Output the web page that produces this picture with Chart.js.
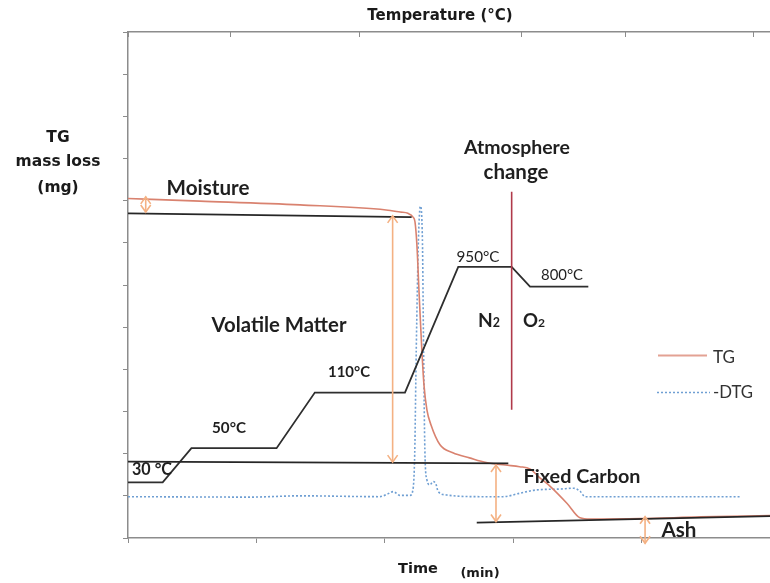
<!DOCTYPE html>
<html>
<head>
<meta charset="utf-8">
<script src="https://cdn.jsdelivr.net/npm/chart.js@4.4.1/dist/chart.umd.min.js"></script>
<style>
html,body{margin:0;padding:0;background:#ffffff;}
#wrap{width:770px;height:583px;}
</style>
</head>
<body>
<div id="wrap"><canvas id="c" width="770" height="583"></canvas></div>
<script>
// ---------- data ----------
const timeTicks = [0, 10, 20, 30, 40, 50];
const tempTickPositions = [0, 7.95, 18.0, 30.6, 38.7, 48.7];

const tgTime = [0, 5.6, 13.4, 20.1, 21.2, 21.8, 22.2, 22.35, 22.5, 22.66, 22.87, 23.05, 23.28, 23.6, 24.3, 25.3, 26.6, 27.9, 29.4, 30.5, 31.3, 32.1, 32.9, 34.2, 35.2, 36.0, 39.9, 44.6, 50];
const tgMass = [8.05, 7.99, 7.90, 7.78, 7.73, 7.70, 7.61, 7.50, 6.95, 5.88, 4.54, 3.63, 3.04, 2.68, 2.21, 2.02, 1.90, 1.79, 1.73, 1.69, 1.64, 1.42, 1.22, 0.82, 0.48, 0.45, 0.46, 0.50, 0.53];

const dtgTime = [0, 9.5, 13.4, 19.6, 20.2, 20.65, 21.2, 21.96, 22.19, 22.33, 22.45, 22.62, 22.77, 22.93, 23.02, 23.12, 23.28, 23.51, 23.77, 23.98, 24.16, 24.82, 27.4, 29.2, 30.5, 31.8, 33.6, 34.7, 35.2, 35.6, 40.7, 47.7];
const dtgValue = [0.98, 0.97, 1.0, 0.98, 1.04, 1.10, 1.01, 1.01, 1.14, 2.0, 4.46, 7.07, 7.87, 7.07, 4.46, 2.09, 1.38, 1.26, 1.34, 1.28, 1.10, 1.02, 0.98, 0.98, 1.06, 1.14, 1.16, 1.18, 1.11, 0.98, 0.98, 0.98];

const programTime = [0, 2.7, 4.94, 11.57, 14.55, 21.57, 25.72, 29.88, 31.31, 35.85];
const programLevel = [1.32, 1.32, 2.13, 2.13, 3.45, 3.45, 6.43, 6.43, 5.96, 5.96];

const tangentStartTime = [0, 0, 27.16];
const tangentEndTime = [22.09, 29.62, 50];
const tangentStartMass = [7.70, 1.81, 0.363];
const tangentEndMass = [7.61, 1.77, 0.52];

const atmosphereTime = [29.88, 29.88];
const atmosphereLevel = [8.21, 3.04];

const arrowNames = ['Moisture', 'Volatile Matter', 'Fixed Carbon', 'Ash'];
const arrowTime = [1.38, 20.61, 28.66, 40.27];
const arrowTop = [8.09, 7.64, 1.73, 0.505];
const arrowBottom = [7.73, 1.80, 0.39, -0.126];

// ---------- styles / layout ----------
const C_TG = '#d9826f';
const C_DTG = '#6f9fd3';
const C_PROG = '#2e2e2e';
const C_TAN = '#262626';
const C_ATM = '#b03a4a';
const C_ARROW = '#f4b183';
const C_AXIS = '#8c8c8c';
const C_TEXT = '#1f1f1f';

const pts = (xs, ys) => xs.map((x, i) => ({x: x, y: ys[i]}));

const datasets = [];
datasets.push({label:'TG', data: pts(tgTime, tgMass), borderColor: C_TG, borderWidth: 1.6, cubicInterpolationMode: 'monotone', pointRadius: 0, order: 3});
datasets.push({label:'-DTG', data: pts(dtgTime, dtgValue), borderColor: C_DTG, borderWidth: 1.6, borderDash: [2, 2], cubicInterpolationMode: 'monotone', pointRadius: 0, order: 4});
datasets.push({label:'Temperature program', data: pts(programTime, programLevel), borderColor: C_PROG, borderWidth: 1.8, tension: 0, pointRadius: 0, order: 2});
for (let i = 0; i < tangentStartTime.length; i++) {
  datasets.push({label:'tangent' + i, data: [{x: tangentStartTime[i], y: tangentStartMass[i]}, {x: tangentEndTime[i], y: tangentEndMass[i]}], borderColor: C_TAN, borderWidth: 1.7, tension: 0, pointRadius: 0, order: 1});
}
datasets.push({label:'Atmosphere change', data: pts(atmosphereTime, atmosphereLevel), borderColor: C_ATM, borderWidth: 1.6, tension: 0, pointRadius: 0, order: 1});
for (let i = 0; i < arrowTime.length; i++) {
  datasets.push({label:'arrow ' + arrowNames[i], isArrow: true, data: [{x: arrowTime[i], y: arrowTop[i]}, {x: arrowTime[i], y: arrowBottom[i]}], borderColor: C_ARROW, borderWidth: 1.6, tension: 0, pointRadius: 0, clip: false, order: 0});
}

// text annotations: pixel layout (cx, cy, target width)
const FONT = 'Lato, "Open Sans", sans-serif';
const labels = [
  {t:'Moisture', cx:208, cy:188, w:83, wt:'bold'},
  {t:'Volatile Matter', cx:279, cy:325, w:135, wt:'bold'},
  {t:'Atmosphere', cx:517, cy:148, w:106, wt:'bold'},
  {t:'change', cx:516, cy:172, w:65, wt:'bold'},
  {t:'Fixed Carbon', cx:582, cy:477, w:117, wt:'bold'},
  {t:'Ash', cx:679, cy:530, w:35, wt:'bold'},
  {t:'110°C', cx:349, cy:372, w:42, wt:'bold'},
  {t:'50°C', cx:229, cy:428, w:34, wt:'bold'},
  {t:'30 °C', cx:152, cy:470, w:40, wt:'bold'},
  {t:'950°C', cx:478, cy:257, w:43, wt:'normal'},
  {t:'800°C', cx:562, cy:275, w:42, wt:'normal'}
];
const gasLabels = [
  {t:'N', sub:'2', cx:489, cy:320, w:22},
  {t:'O', sub:'2', cx:534, cy:320, w:22}
];
const heavyLabels = [
  {t:'Temperature (°C)', cx:440, cy:16, size:15},
  {t:'TG', cx:58, cy:138, size:15.5},
  {t:'mass loss', cx:58, cy:162, size:15.5},
  {t:'(mg)', cx:58, cy:188, size:15.5},
  {t:'Time', cx:418, cy:569, size:14.5},
  {t:'(min)', cx:480, cy:574, size:13}
];

function fitText(ctx, text, cx, cy, w, wt, align) {
  ctx.font = wt + ' 20px ' + FONT;
  const m = ctx.measureText(text).width;
  const size = 20 * w / m;
  ctx.font = wt + ' ' + size.toFixed(2) + 'px ' + FONT;
  ctx.textAlign = align || 'center';
  ctx.textBaseline = 'middle';
  ctx.fillText(text, cx, cy);
}

const decorations = {
  id: 'decorations',
  afterDatasetsDraw(chart) {
    const ctx = chart.ctx;
    const xs = chart.scales.x, ys = chart.scales.y;
    ctx.save();
    ctx.strokeStyle = C_ARROW;
    ctx.lineWidth = 1.6;
    for (let i = 0; i < arrowTime.length; i++) {
      const px = xs.getPixelForValue(arrowTime[i]);
      const pTop = ys.getPixelForValue(arrowTop[i]);
      const pBot = ys.getPixelForValue(arrowBottom[i]);
      const hw = 5, hl = 7;
      ctx.beginPath();
      ctx.moveTo(px - hw, pTop + hl); ctx.lineTo(px, pTop); ctx.lineTo(px + hw, pTop + hl);
      ctx.moveTo(px - hw, pBot - hl); ctx.lineTo(px, pBot); ctx.lineTo(px + hw, pBot - hl);
      ctx.stroke();
    }
    ctx.restore();
  },
  afterDraw(chart) {
    const ctx = chart.ctx;
    const area = chart.chartArea;
    ctx.save();
    // inward tick marks of the top (temperature) axis
    const s2 = chart.scales.x2;
    ctx.strokeStyle = C_AXIS; ctx.lineWidth = 1;
    s2.ticks.forEach(t => {
      const px = Math.round(s2.getPixelForValue(t.value)) + 0.5;
      ctx.beginPath(); ctx.moveTo(px, area.top); ctx.lineTo(px, area.top + 5); ctx.stroke();
    });
    // annotations
    ctx.fillStyle = C_TEXT;
    labels.forEach(l => fitText(ctx, l.t, l.cx, l.cy, l.w, l.wt));
    gasLabels.forEach(g => {
      ctx.font = 'bold 20px ' + FONT;
      const mw = ctx.measureText(g.t).width;
      ctx.font = 'bold 13px ' + FONT;
      const sw = ctx.measureText(g.sub).width;
      const k = g.w / (mw + sw);
      const big = 20 * k, small = 13 * k;
      const left = g.cx - g.w / 2;
      ctx.textAlign = 'left'; ctx.textBaseline = 'alphabetic';
      const base = g.cy + big * 0.36;
      ctx.font = 'bold ' + big.toFixed(2) + 'px ' + FONT;
      ctx.fillText(g.t, left, base);
      ctx.font = 'bold ' + small.toFixed(2) + 'px ' + FONT;
      ctx.fillText(g.sub, left + mw * k, base);
    });
    ctx.fillStyle = '#1a1a1a';
    heavyLabels.forEach(h => {
      ctx.font = 'bold ' + h.size + 'px "DejaVu Sans", sans-serif';
      ctx.textAlign = 'center'; ctx.textBaseline = 'middle';
      ctx.fillText(h.t, h.cx, h.cy);
    });
    // legend
    ctx.lineWidth = 1.8;
    ctx.strokeStyle = '#e3a293';
    ctx.setLineDash([]);
    ctx.beginPath(); ctx.moveTo(658, 355.5); ctx.lineTo(707, 355.5); ctx.stroke();
    ctx.strokeStyle = C_DTG; ctx.lineWidth = 1.5;
    ctx.setLineDash([2, 2]);
    ctx.beginPath(); ctx.moveTo(657, 392.5); ctx.lineTo(710, 392.5); ctx.stroke();
    ctx.setLineDash([]);
    ctx.fillStyle = '#333333';
    fitText(ctx, 'TG', 713, 357, 22, 'normal', 'left');
    fitText(ctx, '-DTG', 713, 393, 40, 'normal', 'left');
    ctx.restore();
  }
};

new Chart(document.getElementById('c'), {
  type: 'line',
  data: { datasets: datasets },
  plugins: [decorations],
  options: {
    responsive: false,
    animation: false,
    layout: { padding: 0 },
    plugins: { legend: { display: false }, tooltip: { enabled: false } },
    scales: {
      x: {
        type: 'linear', position: 'bottom', min: timeTicks[0], max: timeTicks[timeTicks.length - 1],
        afterBuildTicks: s => { s.ticks = timeTicks.map(v => ({value: v})); },
        ticks: { display: false },
        grid: { display: true, drawOnChartArea: false, drawTicks: true, tickLength: 5, color: C_AXIS, lineWidth: 1 },
        border: { display: true, color: C_AXIS, width: 1.5 },
        afterFit: s => { s.height = 45; }
      },
      x2: {
        type: 'linear', position: 'top', min: timeTicks[0], max: timeTicks[timeTicks.length - 1],
        afterBuildTicks: s => { s.ticks = tempTickPositions.map(v => ({value: v})); },
        ticks: { display: false },
        grid: { display: false, drawTicks: false },
        border: { display: true, color: C_AXIS, width: 1.5 },
        afterFit: s => { s.height = 32; }
      },
      y: {
        type: 'linear', position: 'left', min: 0, max: 12,
        ticks: { display: false, stepSize: 1 },
        grid: { display: true, drawOnChartArea: false, drawTicks: true, tickLength: 5, color: C_AXIS, lineWidth: 1 },
        border: { display: true, color: C_AXIS, width: 1.5 },
        afterFit: s => { s.width = 128; }
      }
    }
  }
});
</script>
</body>
</html>
